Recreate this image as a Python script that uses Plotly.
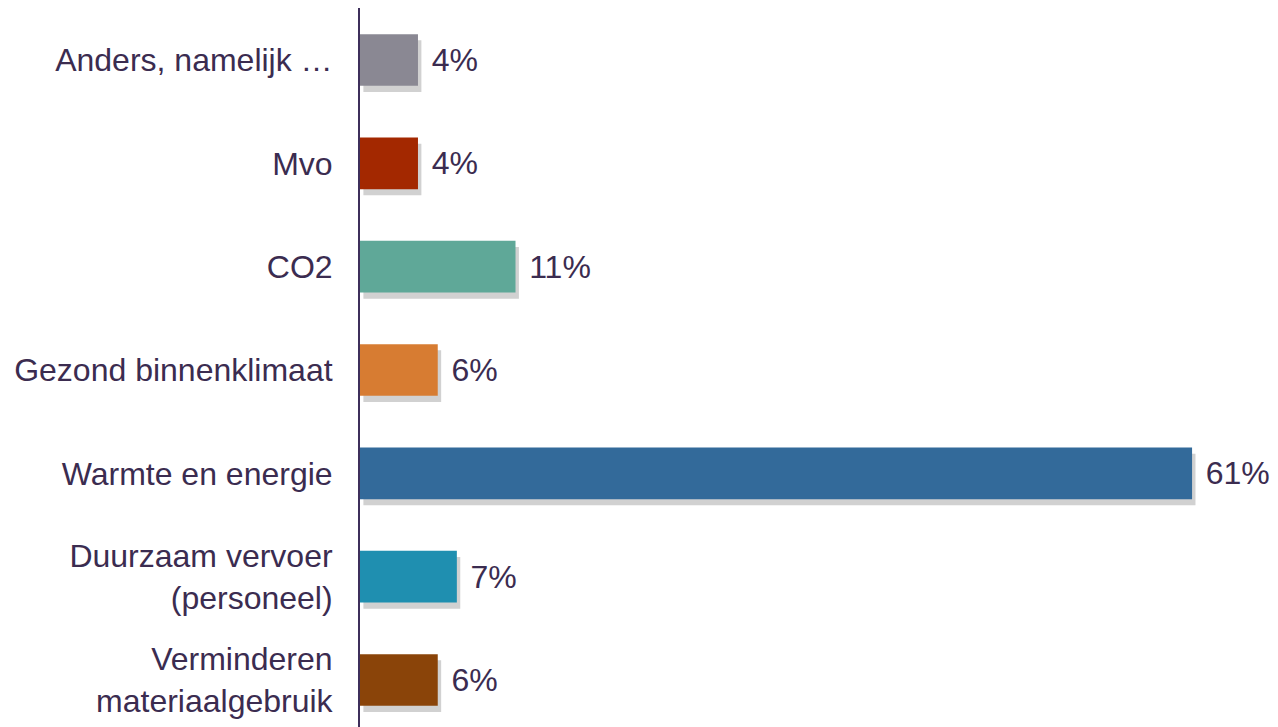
import plotly.graph_objects as go

# categories bottom -> top (plotly draws first category at the bottom)
categories = ["Verminderen<br>materiaalgebruik", "Duurzaam vervoer<br>(personeel)", "Warmte en energie",
              "Gezond binnenklimaat", "CO2", "Mvo", "Anders, namelijk …"]
values = [5.7, 7.1, 61, 5.7, 11.4, 4.25, 4.25]
labels = ["6%", "7%", "61%", "6%", "11%", "4%", "4%"]
colors = ["#8a4409", "#1f8fb0", "#336a9a", "#d77c32", "#5fa898", "#a32800", "#8a8893"]

txt = "#3b2c50"
fs = 32

fig = go.Figure()

# soft drop shadow under each bar
fig.add_trace(go.Bar(
    y=categories, x=values, base=0.25, orientation="h",
    width=0.5, offset=-0.31,
    marker=dict(color="rgba(90,90,90,0.28)", line=dict(width=0)),
    hoverinfo="skip", showlegend=False,
))

fig.add_trace(go.Bar(
    y=categories, x=values, orientation="h",
    width=0.5,
    marker=dict(color=colors, line=dict(width=0)),
    text=["\u2004" + t for t in labels], textposition="outside",
    textfont=dict(size=fs, color=txt, family="Liberation Sans, Arial"),
    cliponaxis=False, showlegend=False,
))

# page body has an 8px margin, so the figure is 8px smaller than the window
fig.update_layout(
    width=1270, height=719,
    margin=dict(l=352, r=0, t=0, b=0),
    barmode="overlay",
    plot_bgcolor="white", paper_bgcolor="white",
    font=dict(family="Liberation Sans, Arial", size=fs, color=txt),
    uniformtext=dict(minsize=fs),
)
fig.update_xaxes(range=[0, 67.3], visible=False, showgrid=False, zeroline=False)
fig.update_yaxes(range=[-0.455, 6.503], showgrid=False, zeroline=False,
                 showline=True, linecolor="#3e2f5b", linewidth=2,
                 ticks="", ticklabelstandoff=19, automargin=False,
                 tickfont=dict(size=fs, color=txt))

fig.write_html("out.html")
